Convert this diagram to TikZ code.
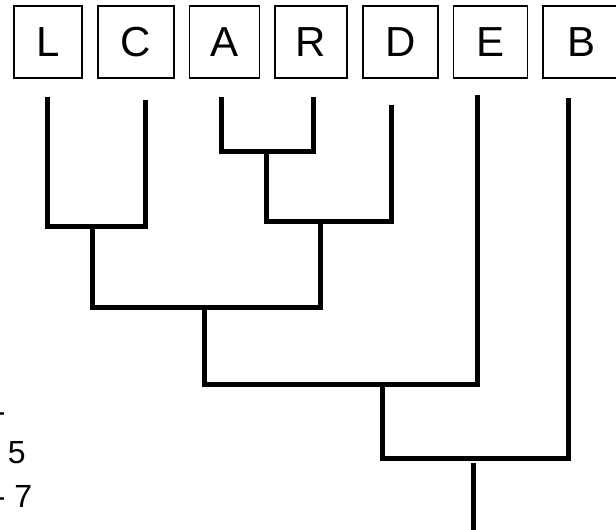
\documentclass[tikz,border=0pt]{standalone}
\usepackage{fontspec}
\setmainfont{Liberation Sans}
\usetikzlibrary{positioning}

\begin{document}
\begin{tikzpicture}[
        x=1pt, y=-1pt,
        node distance=14pt,
        taxon/.style={rectangle, draw=black, line width=1.7pt, inner sep=0pt,
            minimum height=72pt, font=\fontsize{42}{48}\selectfont},
        branch/.style={line width=5pt, line join=miter},
        scalelbl/.style={anchor=base west, inner sep=0pt, font=\fontsize{32}{38}\selectfont}
    ]
    \clip (0,0) rectangle (616,530);

    % Taxa along the top
    \node[taxon, minimum width=68pt] (L) at (48,42) {L};
    \node[taxon, minimum width=76pt, right=of L] (C) {C};
    \node[taxon, minimum width=70pt, right=of C] (A) {A};
    \node[taxon, minimum width=72pt, right=of A] (R) {R};
    \node[taxon, minimum width=75pt, right=of R] (D) {D};
    \node[taxon, minimum width=74pt, right=of D] (E) {E};
    \node[taxon, minimum width=77pt, right=of E] (B) {B};

    % Tips of the branches
    \coordinate (tL) at (47,97);
    \coordinate (tC) at (145,100);
    \coordinate (tA) at (221,97);
    \coordinate (tR) at (313,97);
    \coordinate (tD) at (391,105);
    \coordinate (tE) at (477,95);
    \coordinate (tB) at (568,98);

    % Junctions (where each clade hangs from)
    \coordinate (jLC) at (92,226);
    \coordinate (jAR) at (266,151);
    \coordinate (jARD) at (320,221);
    \coordinate (jLCARD) at (204,307);
    \coordinate (jE) at (382,384);
    \coordinate (jB) at (473,458);
    \coordinate (rtop) at (473,463);
    \coordinate (root) at (473,535);

    \draw[branch] (tL) |- (jLC) -| (tC);
    \draw[branch] (tA) |- (jAR) -| (tR);
    \draw[branch] (jAR) |- (jARD) -| (tD);
    \draw[branch] (jLC) |- (jLCARD) -| (jARD);
    \draw[branch] (jLCARD) |- (jE) -| (tE);
    \draw[branch] (jE) |- (jB) -| (tB);
    \draw[branch] (rtop) -- (root);

    % Scale, cut off at the left edge
    \node[scalelbl] (s1) at (-5.4,422) {-};
    \node[scalelbl] (s2) at (7.7,463) {5};
    \node[scalelbl] (s3) at (-5.4,507) {- 7};
\end{tikzpicture}
\end{document}
